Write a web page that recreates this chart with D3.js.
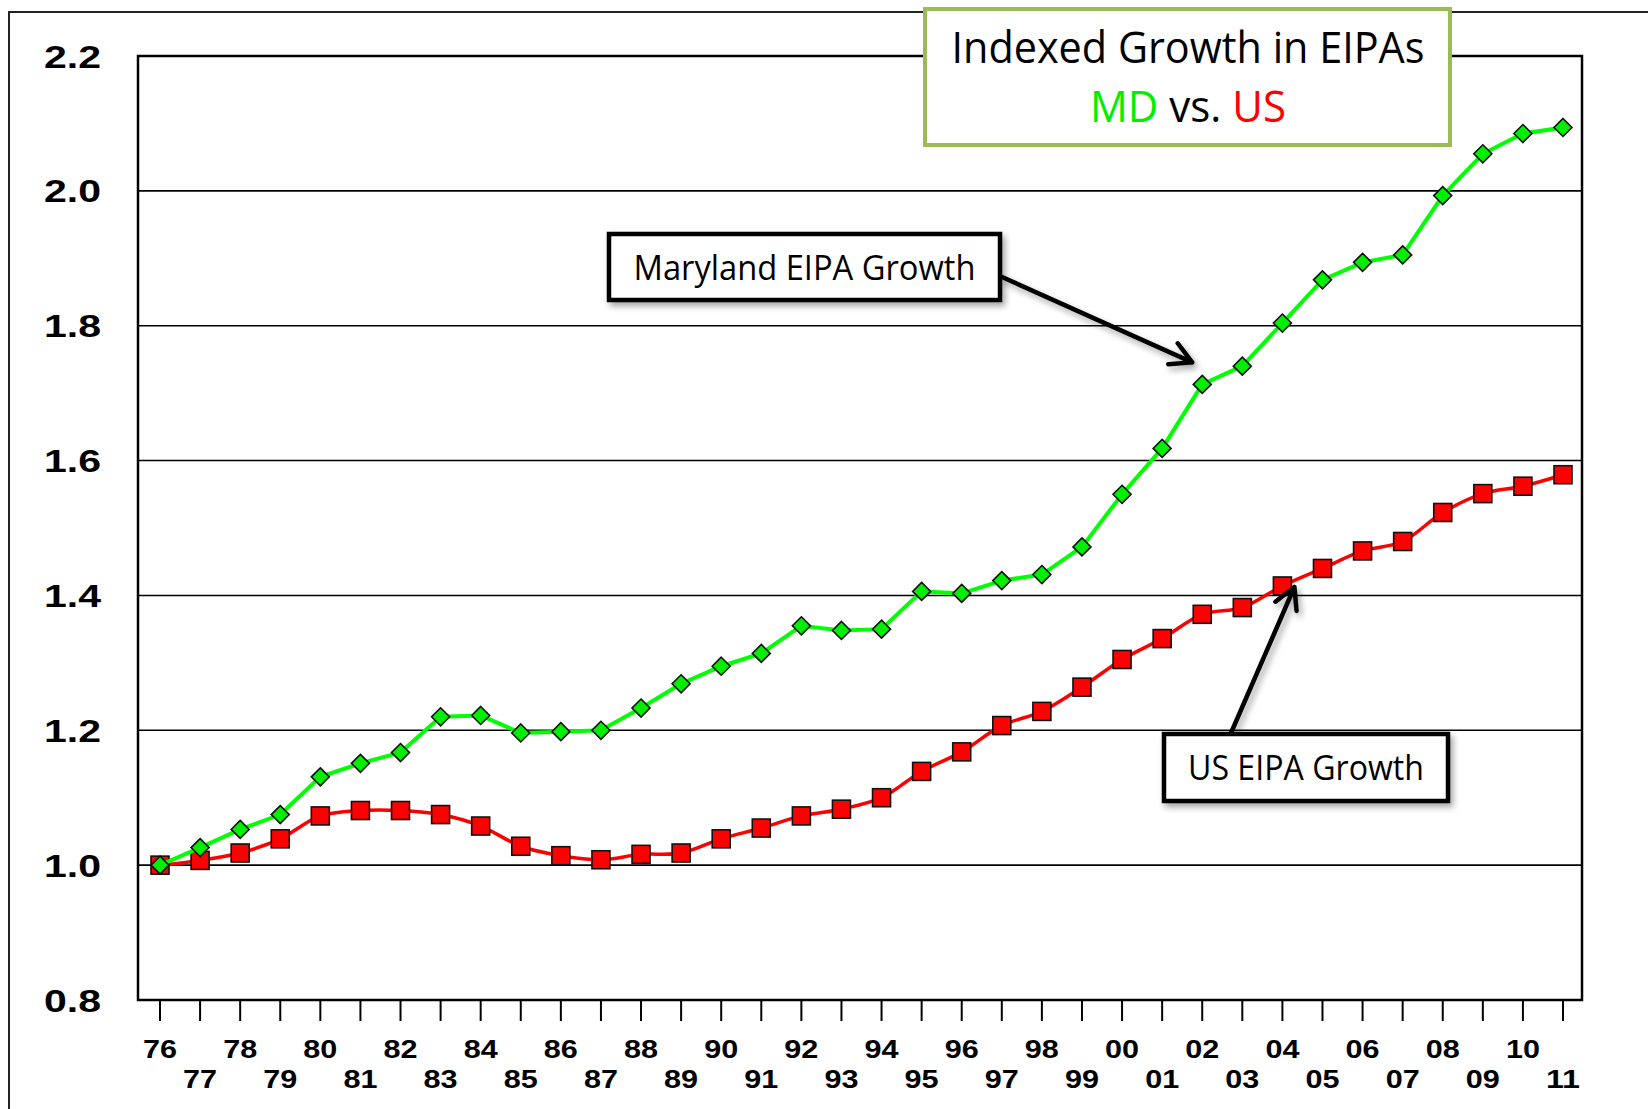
<!DOCTYPE html>
<html>
<head>
<meta charset="utf-8">
<script src="https://cdn.jsdelivr.net/npm/d3@7"></script>
<style>
  body { margin: 0; background: #fff; }
  svg { display: block; }
</style>
</head>
<body>
<svg id="chart" width="1648" height="1109"></svg>
<script>
// two-digit years on the x axis
var years = ["76","77","78","79","80","81","82","83","84","85","86","87","88","89",
  "90","91","92","93","94","95","96","97","98","99","00","01","02","03","04","05",
  "06","07","08","09","10","11"];

// indexed growth, 1976 = 1.0
var mdGrowth = [1.000, 1.026, 1.053, 1.075, 1.131, 1.151, 1.167, 1.220, 1.222, 1.196,
  1.198, 1.200, 1.233, 1.269, 1.295, 1.314, 1.355, 1.348, 1.350, 1.406, 1.403, 1.422,
  1.431, 1.472, 1.550, 1.618, 1.713, 1.740, 1.804, 1.868, 1.894, 1.905, 1.993, 2.055,
  2.085, 2.094];
var usGrowth = [1.000, 1.007, 1.018, 1.039, 1.073, 1.081, 1.081, 1.075, 1.058, 1.028,
  1.014, 1.008, 1.016, 1.018, 1.039, 1.055, 1.073, 1.083, 1.100, 1.139, 1.168, 1.207,
  1.228, 1.264, 1.305, 1.336, 1.372, 1.382, 1.414, 1.440, 1.466, 1.480, 1.523, 1.551,
  1.562, 1.579];

var yTicks = [0.8, 1.0, 1.2, 1.4, 1.6, 1.8, 2.0, 2.2];

var titleLine1 = "Indexed Growth in EIPAs";
var mdLabel = "Maryland EIPA Growth";
var usLabel = "US EIPA Growth";

var svg = d3.select("#chart");
var plotL = 138, plotR = 1582, plotT = 56, plotB = 1000;

var x = d3.scalePoint().domain(years).range([160, 1563]);
var y = d3.scaleLinear().domain([0.8, 2.2]).range([plotB, plotT]);

var defs = svg.append("defs");
defs.append("filter").attr("id", "shadow")
    .attr("x", "-20%").attr("y", "-20%").attr("width", "140%").attr("height", "140%")
  .append("feDropShadow")
    .attr("dx", 3).attr("dy", 4).attr("stdDeviation", 3)
    .attr("flood-color", "#000").attr("flood-opacity", 0.35);

// outer frame (only top and left show)
svg.append("path")
    .attr("d", "M9,1109 L9,12 L1648,12")
    .attr("fill", "none").attr("stroke", "#222").attr("stroke-width", 2);

// gridlines
svg.selectAll("line.grid").data(yTicks.slice(1, -1)).enter().append("line")
    .attr("class", "grid")
    .attr("x1", plotL).attr("x2", plotR)
    .attr("y1", function(d) { return y(d); })
    .attr("y2", function(d) { return y(d); })
    .attr("stroke", "#000").attr("stroke-width", 1.6);

// plot frame
svg.append("rect")
    .attr("x", plotL).attr("y", plotT)
    .attr("width", plotR - plotL).attr("height", plotB - plotT)
    .attr("fill", "none").attr("stroke", "#000").attr("stroke-width", 2.5);

// x ticks
svg.selectAll("line.xtick").data(years).enter().append("line")
    .attr("class", "xtick")
    .attr("x1", function(d) { return x(d); })
    .attr("x2", function(d) { return x(d); })
    .attr("y1", plotB).attr("y2", plotB + 21)
    .attr("stroke", "#000").attr("stroke-width", 2);

// y labels
svg.selectAll("text.ylab").data(yTicks).enter().append("text")
    .attr("class", "ylab")
    .attr("x", 101)
    .attr("y", function(d) { return y(d) + 11.5; })
    .attr("text-anchor", "end")
    .attr("font-family", "'Liberation Sans', Arial, sans-serif")
    .attr("font-weight", "bold")
    .attr("font-size", 32)
    .attr("textLength", 57)
    .attr("lengthAdjust", "spacingAndGlyphs")
    .text(d3.format(".1f"));

// x labels, staggered in two rows
svg.selectAll("text.xlab").data(years).enter().append("text")
    .attr("class", "xlab")
    .attr("x", function(d) { return x(d); })
    .attr("y", function(d, i) { return i % 2 == 0 ? 1058 : 1088; })
    .attr("text-anchor", "middle")
    .attr("font-family", "'Liberation Sans', Arial, sans-serif")
    .attr("font-weight", "bold")
    .attr("font-size", 26)
    .attr("textLength", 34)
    .attr("lengthAdjust", "spacingAndGlyphs")
    .text(function(d) { return d; });

// US series (smoothed line, square markers)
var usLine = d3.line()
    .x(function(d, i) { return x(years[i]); })
    .y(function(d) { return y(d); })
    .curve(d3.curveCatmullRom.alpha(0.5));
svg.append("path").datum(usGrowth)
    .attr("d", usLine)
    .attr("fill", "none").attr("stroke", "#ff0000").attr("stroke-width", 3.5);
svg.selectAll("rect.us").data(usGrowth).enter().append("rect")
    .attr("class", "us")
    .attr("x", function(d, i) { return x(years[i]) - 9; })
    .attr("y", function(d) { return y(d) - 9; })
    .attr("width", 18).attr("height", 18)
    .attr("fill", "#ff0000").attr("stroke", "#111").attr("stroke-width", 1.6);

// MD series (straight line, diamond markers)
var mdLine = d3.line()
    .x(function(d, i) { return x(years[i]); })
    .y(function(d) { return y(d); });
svg.append("path").datum(mdGrowth)
    .attr("d", mdLine)
    .attr("fill", "none").attr("stroke", "#00ff00").attr("stroke-width", 4);
svg.selectAll("path.md").data(mdGrowth).enter().append("path")
    .attr("class", "md")
    .attr("transform", function(d, i) { return "translate(" + x(years[i]) + "," + y(d) + ")"; })
    .attr("d", "M0,-9 L9,0 L0,9 L-9,0 Z")
    .attr("fill", "#00ee00").attr("stroke", "#111").attr("stroke-width", 1.6);

// title box
svg.append("rect")
    .attr("x", 925).attr("y", 9).attr("width", 525).attr("height", 136)
    .attr("fill", "#fff").attr("stroke", "#9bbb59").attr("stroke-width", 4);
svg.append("text")
    .attr("x", 1188).attr("y", 63)
    .attr("text-anchor", "middle")
    .attr("font-family", "'Open Sans', sans-serif")
    .attr("font-size", 43)
    .attr("textLength", 473)
    .attr("lengthAdjust", "spacingAndGlyphs")
    .attr("fill", "#000")
    .text(titleLine1);
var t2 = svg.append("text")
    .attr("x", 1188).attr("y", 122)
    .attr("text-anchor", "middle")
    .attr("font-family", "'Open Sans', sans-serif")
    .attr("font-size", 43)
    .attr("textLength", 196)
    .attr("lengthAdjust", "spacingAndGlyphs");
t2.append("tspan").attr("fill", "#00ee00").text("MD");
t2.append("tspan").attr("fill", "#000").text(" vs. ");
t2.append("tspan").attr("fill", "#ff0000").text("US");

// annotation arrows, tips placed relative to the 2002 and 2004 points
function arrow(x0, y0, x1, y1) {
  var a = Math.atan2(y1 - y0, x1 - x0), len = 24, spread = 0.5;
  var p1 = [x1 - len * Math.cos(a - spread), y1 - len * Math.sin(a - spread)];
  var p2 = [x1 - len * Math.cos(a + spread), y1 - len * Math.sin(a + spread)];
  svg.append("path")
      .attr("d", "M" + x0 + "," + y0 + " L" + x1 + "," + y1 +
                 " M" + p1 + " L" + x1 + "," + y1 + " L" + p2)
      .attr("fill", "none").attr("stroke", "#000").attr("stroke-width", 4.5)
      .attr("stroke-linecap", "round").attr("stroke-linejoin", "round")
      .attr("filter", "url(#shadow)");
}
arrow(1002, 277, x("02") - 10, y(mdGrowth[26]) - 22);
arrow(1231, 733, x("04") + 12, y(usGrowth[28]) + 1);

// callout boxes
function callout(bx, by, bw, bh, label, tl, baseline) {
  svg.append("rect")
      .attr("x", bx).attr("y", by).attr("width", bw).attr("height", bh)
      .attr("fill", "#fff").attr("stroke", "#000").attr("stroke-width", 4.5)
      .attr("filter", "url(#shadow)");
  svg.append("text")
      .attr("x", bx + bw / 2).attr("y", baseline)
      .attr("text-anchor", "middle")
      .attr("font-family", "'Open Sans', sans-serif")
      .attr("font-size", 34)
      .attr("textLength", tl)
      .attr("lengthAdjust", "spacingAndGlyphs")
      .attr("fill", "#000")
      .text(label);
}
callout(609, 234, 391, 66, mdLabel, 342, 280);
callout(1164, 734, 284, 67, usLabel, 236, 780);
</script>
</body>
</html>
